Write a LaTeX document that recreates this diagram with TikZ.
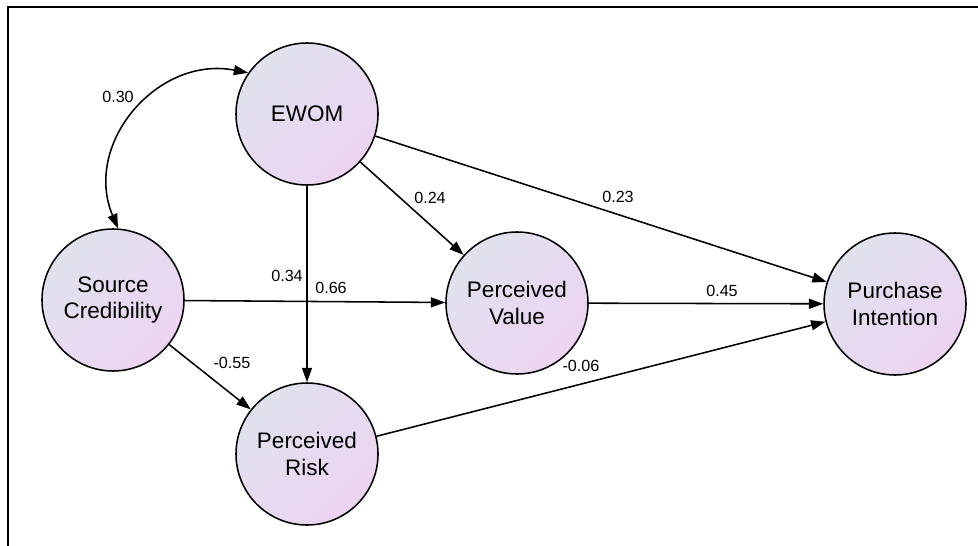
\documentclass[tikz,border=0pt]{standalone}
\usepackage{fontspec}
\setmainfont{Liberation Sans}
\usetikzlibrary{arrows.meta}
\definecolor{shadetl}{RGB}{224,226,238}
\definecolor{shadebr}{RGB}{236,212,241}

\begin{document}
\begin{tikzpicture}[>={Triangle[length=3.6mm,width=2.5mm]},
        construct/.style={circle,draw,line width=1.1pt,minimum size=3.55cm,align=center,
            font=\fontsize{16}{19}\selectfont,top color=shadetl,bottom color=shadebr,shading angle=45},
        link/.style={->,line width=1.1pt},
        coef/.style={font=\fontsize{11.5}{13}\selectfont}]
        \useasboundingbox (0,0) rectangle (24.45,-13.625);
        \draw[line width=2pt] (0.2,-13.8) |- (24.6,-0.175);
        \node[construct] (ewom) at (7.675,-2.85) {EWOM};
        \node[construct] (sc) at (2.825,-7.5) {Source\\Credibility};
        \node[construct] (pv) at (12.925,-7.575) {Perceived\\Value};
        \node[construct] (pr) at (7.675,-11.35) {Perceived\\Risk};
        \node[construct] (pi) at (22.375,-7.6) {Purchase\\Intention};
        \draw[link,<->] (sc.86) .. controls +(-0.89,2.125) and +(-2.26,0.44) .. (ewom.145);
        \draw[link] (ewom) -- (pv);
        \draw[link] (ewom) -- (pi);
        \draw[link] (ewom) -- (pr);
        \draw[link] (sc) -- (pv);
        \draw[link] (sc) -- (pr);
        \draw[link] (pv) -- (pi);
        \draw[link] (pr) -- (pi);
        \node[coef] (c030) at (2.95,-2.425) {0.30};
        \node[coef] (c024) at (10.75,-4.95) {0.24};
        \node[coef] (c023) at (15.45,-4.925) {0.23};
        \node[coef] (c034) at (7.175,-6.9) {0.34};
        \node[coef] (c066) at (8.275,-7.2) {0.66};
        \node[coef] (c045) at (18.05,-7.275) {0.45};
        \node[coef] (c055) at (5.8,-9.075) {-0.55};
        \node[coef] (c006) at (14.525,-9.15) {-0.06};
    \end{tikzpicture}
\end{document}
